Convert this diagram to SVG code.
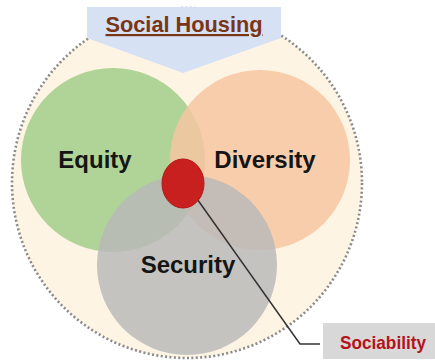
<svg xmlns="http://www.w3.org/2000/svg" width="435" height="360" viewBox="0 0 435 360">
<style>
.lbl{font-family:"Liberation Sans",Arial,sans-serif;font-weight:bold;font-size:24px;fill:#151515;text-anchor:middle}
</style>
<rect width="435" height="360" fill="#ffffff"/>
<g id="outer">
<circle cx="187" cy="183" r="175" fill="#fdf4e4" stroke="#8a8a8a" stroke-width="2.6" stroke-dasharray="2 2.4"/>
</g>
<g id="banner">
<path d="M87,7 H281 V38 L183,73 L87,38 Z" fill="#d6e1f4"/>
<text x="184" y="32" font-family="Liberation Sans,Arial,sans-serif" font-weight="bold" font-size="22" fill="#7a3517" text-anchor="middle" text-decoration="underline" textLength="157" lengthAdjust="spacingAndGlyphs">Social Housing</text>
</g>
<g id="equity">
<circle cx="113" cy="160" r="92" fill="#b0d497"/>
</g>
<g id="diversity">
<circle cx="260" cy="160" r="90" fill="#f7c6a2" fill-opacity="0.85"/>
</g>
<g id="security">
<circle cx="187" cy="265" r="90" fill="#b8b8b8" fill-opacity="0.82"/>
</g>
<g id="labels">
<text class="lbl" x="95" y="168">Equity</text>
<text class="lbl" x="265" y="168">Diversity</text>
<text class="lbl" x="188" y="273">Security</text>
</g>
<g id="connectors">
<polyline points="190,189 300,344 320,344" fill="none" stroke="#333333" stroke-width="1.5"/>
</g>
<g id="sociability-dot">
<ellipse cx="183" cy="183.5" rx="21" ry="24.5" fill="#c8201f" stroke="#b01818" stroke-width="1"/>
</g>
<g id="sociability">
<rect x="323" y="323" width="112" height="36" fill="#d8d8d8"/>
<text x="383" y="349" font-family="Liberation Sans,Arial,sans-serif" font-weight="bold" font-size="19" fill="#b5121b" text-anchor="middle" textLength="86" lengthAdjust="spacingAndGlyphs">Sociability</text>
</g>
</svg>
